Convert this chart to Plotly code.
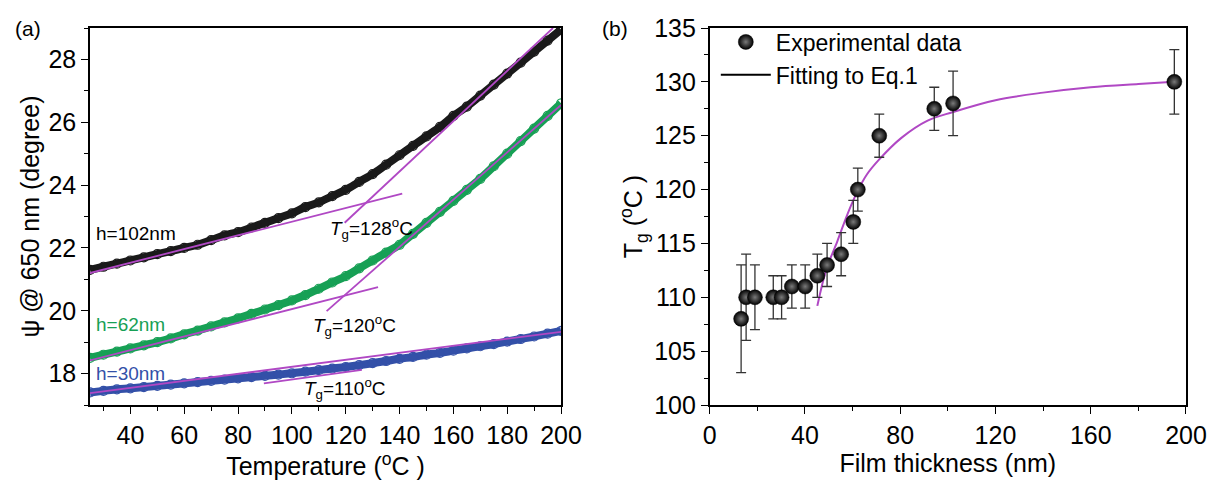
import plotly.graph_objects as go

# ---------------- Panel (a) data ----------------
temp = [25, 30, 35, 40, 45, 50, 55, 60, 65, 70, 75, 80, 85, 90, 95, 100, 105, 110,
        115, 120, 125, 130, 135, 140, 145, 150, 155, 160, 165, 170, 175, 180, 185,
        190, 195, 200]
psi_102 = [21.3, 21.4, 21.5, 21.6, 21.7, 21.8, 21.9, 22.0, 22.1, 22.25, 22.4, 22.5,
           22.65, 22.8, 22.95, 23.1, 23.3, 23.45, 23.65, 23.85, 24.1, 24.35, 24.65,
           24.95, 25.25, 25.55, 25.85, 26.2, 26.5, 26.85, 27.2, 27.55, 27.9, 28.25,
           28.6, 28.95]
psi_62 = [18.5, 18.6, 18.7, 18.8, 18.9, 19.0, 19.12, 19.25, 19.37, 19.5, 19.63, 19.76,
          19.9, 20.04, 20.18, 20.33, 20.5, 20.7, 20.9, 21.1, 21.35, 21.6, 21.85, 22.1,
          22.45, 22.8, 23.15, 23.5, 23.85, 24.2, 24.6, 25.0, 25.4, 25.8, 26.2, 26.6]
psi_30 = [17.4, 17.45, 17.5, 17.53, 17.57, 17.61, 17.65, 17.69, 17.73, 17.77, 17.81,
          17.85, 17.89, 17.93, 17.97, 18.01, 18.06, 18.11, 18.16, 18.21, 18.27, 18.33,
          18.4, 18.47, 18.53, 18.6, 18.66, 18.73, 18.8, 18.87, 18.94, 19.02, 19.1,
          19.18, 19.27, 19.36]

# tangent lines (x pairs, y pairs)
tan_102_low_x = [25, 141]
tan_102_low_y = [21.2, 23.73]
tan_102_high_x = [119.6, 197]
tan_102_high_y = [22.8, 29.0]
tan_62_low_x = [25, 132]
tan_62_low_y = [18.42, 20.75]
tan_62_high_x = [112.9, 200]
tan_62_high_y = [19.99, 26.55]
tan_30_long_x = [25, 200]
tan_30_long_y = [17.38, 19.33]
tan_30_short_x = [89.6, 126]
tan_30_short_y = [17.69, 18.12]

# ---------------- Panel (b) data ----------------
thickness = [13.2, 15.3, 19.0, 26.7, 30.2, 34.5, 40.1, 45.2, 49.3, 55.2, 60.3, 62.2,
             71.2, 94.3, 102.2, 195.1]
tg = [108, 110, 110, 110, 110, 111, 111, 112, 113, 114, 117, 120, 125, 127.5, 128, 130]
tg_err = [5, 4, 3, 2, 2, 2, 2, 2, 2, 2, 2, 2, 2, 2, 3, 3]

fit_h = [45.2, 49, 53.6, 58, 62.2, 66, 71.2, 80.5, 91.5, 102.2, 120, 140, 160, 180, 195]
fit_tg = [109.2, 112.6, 115.2, 117.8, 119.9, 121.4, 122.8, 124.8, 126.4, 127.2,
          128.3, 129.0, 129.5, 129.8, 130.0]

# ---------------- styling ----------------
MAG = "#b048c4"
BLACK = "#1a1a1a"
GREEN = "#17a055"
BLUE = "#3350a8"
FONT = "Liberation Sans, Arial, sans-serif"

fig = go.Figure()

def band(y, color):
    fig.add_trace(go.Scatter(
        x=temp, y=y, mode="lines+markers",
        line=dict(color=color, width=8, shape="spline"),
        marker=dict(symbol="circle-open", size=9, color=color, line=dict(width=1.2)),
        showlegend=False, xaxis="x", yaxis="y"))

band(psi_102, BLACK)
band(psi_62, GREEN)
band(psi_30, BLUE)

for xs, ys in [(tan_102_low_x, tan_102_low_y), (tan_102_high_x, tan_102_high_y),
               (tan_62_low_x, tan_62_low_y), (tan_62_high_x, tan_62_high_y),
               (tan_30_long_x, tan_30_long_y), (tan_30_short_x, tan_30_short_y)]:
    fig.add_trace(go.Scatter(x=xs, y=ys, mode="lines", line=dict(color=MAG, width=1.8),
                             showlegend=False, xaxis="x", yaxis="y"))

# panel b
fig.add_trace(go.Scatter(
    x=fit_h, y=fit_tg, mode="lines", line=dict(color=MAG, width=2, shape="spline"),
    showlegend=False, xaxis="x2", yaxis="y2"))
fig.add_trace(go.Scatter(
    x=thickness, y=tg, mode="markers", name="Experimental data",
    error_y=dict(type="data", array=tg_err, color="#333333", thickness=1.3, width=5),
    marker=dict(size=15, color="black",
                gradient=dict(type="radial", color="#7a7a7a"),
                line=dict(width=0.5, color="black")),
    xaxis="x2", yaxis="y2"))
fig.add_trace(go.Scatter(
    x=[None], y=[None], mode="lines", name="Fitting to Eq.1",
    line=dict(color="black", width=2), xaxis="x2", yaxis="y2"))

axis_common = dict(showline=True, linecolor="black", linewidth=1.5, mirror=True,
                   ticks="outside", ticklen=7, tickwidth=1.3, tickcolor="black",
                   showgrid=False, zeroline=False, automargin=False,
                   ticklabeloverflow="allow",
                   tickfont=dict(family=FONT, size=25, color="black"))

# the page body adds an 8px offset, so the figure is drawn 8px smaller
fig.update_layout(
    width=1209, height=478,
    margin=dict(l=81.5, r=31.3, t=14, b=81),
    paper_bgcolor="white", plot_bgcolor="white",
    font=dict(family=FONT, color="black"),
    xaxis=dict(domain=[0, 0.4298], range=[25, 200], dtick=20, tick0=0,
               minor=dict(dtick=10, ticks="outside", ticklen=4, tickcolor="black"),
               title=dict(text="Temperature (<sup>o</sup>C )", font=dict(size=25), standoff=6),
               anchor="y", **axis_common),
    yaxis=dict(range=[17, 29], dtick=2, tick0=0,
               minor=dict(dtick=1, ticks="outside", ticklen=4, tickcolor="black"),
               title=dict(text="ψ @ 650 nm (degree)", font=dict(size=25), standoff=2),
               anchor="x", **axis_common),
    xaxis2=dict(domain=[0.5654, 1], range=[0, 200], dtick=40, tick0=0,
                minor=dict(dtick=20, ticks="outside", ticklen=4, tickcolor="black"),
                title=dict(text="Film thickness (nm)", font=dict(size=25), standoff=6),
                anchor="y2", **axis_common),
    yaxis2=dict(range=[100, 135], dtick=5, tick0=0,
                minor=dict(dtick=2.5, ticks="outside", ticklen=4, tickcolor="black"),
                title=dict(text="T<sub>g</sub> (<sup>o</sup>C )", font=dict(size=25), standoff=4),
                anchor="x2", **axis_common),
    legend=dict(x=0.571, y=1.02, xanchor="left", yanchor="top",
                bgcolor="rgba(0,0,0,0)", font=dict(family=FONT, size=23, color="black"),
                itemwidth=50, tracegroupgap=0),
)

ann = [
    dict(x=26.5, y=22.45, text="h=102nm", color="black"),
    dict(x=26.5, y=19.55, text="h=62nm", color=GREEN),
    dict(x=26.5, y=18.0, text="h=30nm", color=BLUE),
    dict(x=113.3, y=22.63, text="<i>T</i><sub>g</sub>=128<sup>o</sup>C", color="black"),
    dict(x=107.2, y=19.52, text="<i>T</i><sub>g</sub>=120<sup>o</sup>C", color="black"),
    dict(x=103.6, y=17.53, text="<i>T</i><sub>g</sub>=110<sup>o</sup>C", color="black"),
]
for a in ann:
    fig.add_annotation(x=a["x"], y=a["y"], xref="x", yref="y", text=a["text"],
                       showarrow=False, xanchor="left", yanchor="middle",
                       font=dict(family=FONT, size=19, color=a["color"]))

fig.add_annotation(x=-0.0707, y=1.035, xref="paper", yref="paper", text="(a)",
                   showarrow=False, xanchor="left", yanchor="top",
                   font=dict(family=FONT, size=21, color="black"))
fig.add_annotation(x=0.4657, y=1.035, xref="paper", yref="paper", text="(b)",
                   showarrow=False, xanchor="left", yanchor="top",
                   font=dict(family=FONT, size=21, color="black"))

fig.write_html("out.html")
